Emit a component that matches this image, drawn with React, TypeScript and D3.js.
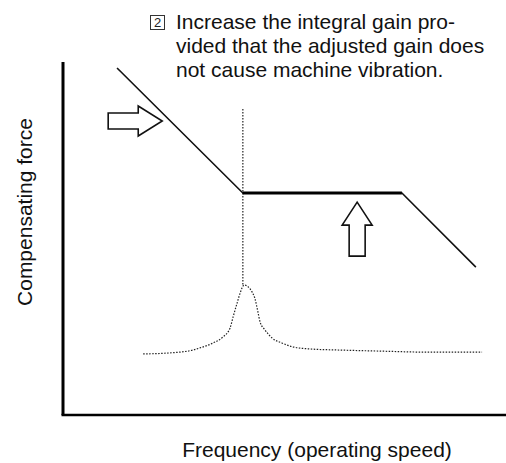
import React from "react";
import * as d3 from "d3";

// Logical units: frequency 0..10 (x), compensating force 0..10 (y)
const titleLines = [
  "Increase the integral gain pro-",
  "vided that the adjusted gain does",
  "not cause machine vibration.",
];
const titleMarker = "2";
const xLabel = "Frequency (operating speed)";
const yLabel = "Compensating force";

// compensating force characteristic (knee points)
const compX = [1.22, 4.06, 7.65, 9.32];
const compY = [9.83, 6.29, 6.29, 4.19];

// machine resonance curve
const resX = [1.81, 2.42, 2.93, 3.09, 3.39, 3.61, 3.77, 3.84, 3.93, 4.0, 4.09, 4.18, 4.27, 4.33, 4.4, 4.45, 4.56, 4.72, 4.94, 5.19, 5.58, 6.25, 7.16, 8.28, 9.46];
const resY = [1.73, 1.76, 1.84, 1.9, 2.04, 2.21, 2.46, 2.78, 3.17, 3.46, 3.68, 3.63, 3.48, 3.31, 2.92, 2.63, 2.41, 2.18, 2.04, 1.93, 1.87, 1.84, 1.81, 1.78, 1.78];

// resonance frequency marker
const resonanceX = 4.06;
const resonanceTop = 8.67;
const resonancePeak = 3.68;

// arrows: right arrow (shift knee frequency), up arrow (increase gain)
const rightArrow = { x0: 1.02, x1: 2.24, y: 8.33 };
const upArrow = { x: 6.64, y0: 4.5, y1: 6.03 };

const W = 506;
const H = 463;

export default function App() {
  const x = d3.scaleLinear().domain([0, 10]).range([63, 506]);
  const y = d3.scaleLinear().domain([0, 10]).range([415, 62]);

  const compLine = d3
    .line<number>()
    .x((_, i) => x(compX[i]))
    .y((_, i) => y(compY[i]))(compX.map((_, i) => i)) as string;

  const resLine = d3
    .line<number>()
    .x((_, i) => x(resX[i]))
    .y((_, i) => y(resY[i]))
    .curve(d3.curveMonotoneX)(resX.map((_, i) => i)) as string;

  const ra = (() => {
    const x0 = x(rightArrow.x0);
    const x1 = x(rightArrow.x1);
    const cy = y(rightArrow.y);
    const hs = 8;
    const hh = 15;
    const hl = 24;
    const xb = x1 - hl;
    return [
      [x0, cy - hs],
      [xb, cy - hs],
      [xb, cy - hh],
      [x1, cy],
      [xb, cy + hh],
      [xb, cy + hs],
      [x0, cy + hs],
    ]
      .map((p) => p.join(","))
      .join(" ");
  })();

  const ua = (() => {
    const cx = x(upArrow.x);
    const y0 = y(upArrow.y0);
    const y1 = y(upArrow.y1);
    const hs = 8;
    const hh = 15;
    const hl = 23;
    const yb = y1 + hl;
    return [
      [cx - hs, y0],
      [cx - hs, yb],
      [cx - hh, yb],
      [cx, y1],
      [cx + hh, yb],
      [cx + hs, yb],
      [cx + hs, y0],
    ]
      .map((p) => p.join(","))
      .join(" ");
  })();

  const font = "'Liberation Sans', Arial, Helvetica, sans-serif";

  return (
    <svg
      width={W}
      height={H}
      style={{ position: "absolute", left: 0, top: 0, background: "#fff" }}
      fontFamily={font}
    >
      <rect x={0} y={0} width={W} height={H} fill="#fff" />
      {/* title */}
      <rect x={150.5} y={15.5} width={14} height={14} fill="none" stroke="#333" strokeWidth={1} />
      <text x={157.5} y={27} fontSize={13} textAnchor="middle" fill="#222">
        {titleMarker}
      </text>
      {titleLines.map((t, i) => (
        <text key={i} x={176} y={29 + i * 24} fontSize={21} fill="#111">
          {t}
        </text>
      ))}

      {/* axes */}
      <line x1={x(0)} y1={y(0)} x2={x(0)} y2={y(10)} stroke="#000" strokeWidth={3} />
      <line x1={x(0) - 1.5} y1={y(0)} x2={x(10)} y2={y(0)} stroke="#000" strokeWidth={2.5} />

      {/* axis labels */}
      <text
        transform={`translate(32, 212) rotate(-90)`}
        fontSize={21}
        textAnchor="middle"
        fill="#111"
      >
        {yLabel}
      </text>
      <text x={317} y={457} fontSize={21} textAnchor="middle" fill="#111">
        {xLabel}
      </text>

      {/* resonance marker line */}
      <line
        x1={x(resonanceX)}
        y1={y(resonanceTop)}
        x2={x(resonanceX)}
        y2={y(resonancePeak)}
        stroke="#222"
        strokeWidth={1.2}
        strokeDasharray="1.5 1.5"
      />

      {/* resonance curve */}
      <path d={resLine} fill="none" stroke="#222" strokeWidth={1.2} strokeDasharray="1.5 1.5" />

      {/* compensating force line */}
      <path d={compLine} fill="none" stroke="#111" strokeWidth={1.6} />
      <line
        x1={x(compX[1])}
        y1={y(compY[1])}
        x2={x(compX[2])}
        y2={y(compY[2])}
        stroke="#000"
        strokeWidth={3}
      />

      {/* arrows */}
      <polygon points={ra} fill="#fff" stroke="#111" strokeWidth={1.6} />
      <polygon points={ua} fill="#fff" stroke="#111" strokeWidth={1.6} />
    </svg>
  );
}
